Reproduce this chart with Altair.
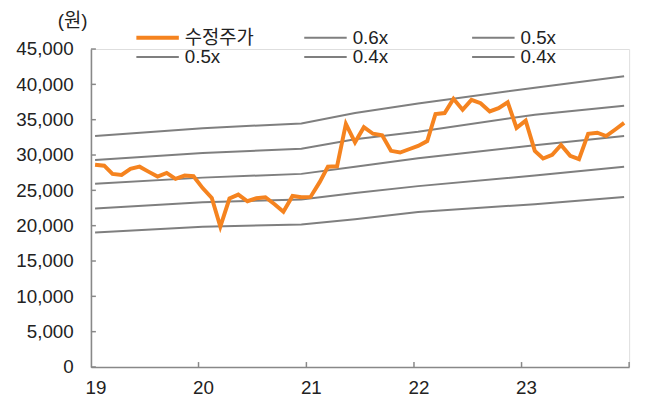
import altair as alt
import pandas as pd

# ---- data ----
months = [f"{2019 + i // 12}-{i % 12 + 1:02d}-15" for i in range(60)]
price = [28630, 28490, 27330, 27190, 28030, 28350, 27650, 26955, 27470, 26630, 27090, 27000,
         25320, 23930, 19880, 23840, 24400, 23460, 23880, 24020, 23040, 21970, 24200, 24020,
         24070, 26160, 28350, 28400, 34400, 31800, 33940, 33010, 32780, 30590, 30350, 30820,
         31280, 31980, 35800, 35940, 37950, 36410, 37810, 37330, 36170, 36630, 37470, 33840,
         34870, 30590, 29510, 30030, 31420, 29890, 29420, 33010, 33150, 32680, 33610, 34540]

band_dates = ["2019-01-15", "2020-01-15", "2020-12-15", "2021-06-15", "2022-01-15", "2023-02-15", "2023-12-15"]
band_names = ["0.6x", "0.5x", "0.5x ", "0.4x", "0.4x "]
band_a = [32680, 33800, 34470, 35940, 37300, 39530, 41160]
band_b = [29290, 30300, 30890, 32220, 33300, 35710, 36970]
band_c = [25930, 26800, 27330, 28350, 29530, 31380, 32680]
band_d = [22440, 23300, 23720, 24630, 25600, 27090, 28350]
band_e = [19040, 19850, 20180, 20910, 21950, 23040, 24070]
band_values = [band_a, band_b, band_c, band_d, band_e]

price_name = "수정주가"
series = [price_name] + band_names
colors = ["#F5831F", "#7F7F7F", "#7F7F7F", "#7F7F7F", "#7F7F7F", "#7F7F7F"]
widths = [4, 2, 2, 2, 2, 2]

y_tick_values = [0, 5000, 10000, 15000, 20000, 25000, 30000, 35000, 40000, 45000]
x_label_years = [2019, 2020, 2021, 2022, 2023]
x_tick_dates = ["2020-01-01", "2021-01-01", "2022-01-01", "2023-01-01", "2024-01-01"]

# ---- tables ----
price_df = pd.DataFrame({"date": months, "value": price, "series": price_name})
band_rows = []
for name, vals in zip(band_names, band_values):
    for d, v in zip(band_dates, vals):
        band_rows.append({"date": d, "value": v, "series": name})
band_df = pd.DataFrame(band_rows)
xt_df = pd.DataFrame({"date": x_tick_dates})
yt_df = pd.DataFrame({"value": y_tick_values})

W, H = 545, 322
FONT = "Liberation Sans, Noto Sans CJK KR"
TXT = "#222222"
AX = "#888888"

x_scale = alt.Scale(type="utc", domain=[alt.DateTime(year=2019, month=1, date=1, utc=True),
                                        alt.DateTime(year=2024, month=1, date=1, utc=True)])
y_scale = alt.Scale(domain=[0, 45000], nice=False, zero=True)
color_scale = alt.Scale(domain=series, range=colors)
width_scale = alt.Scale(type="ordinal", domain=series, range=widths)

legend = alt.Legend(title=None, orient="none", legendX=44, legendY=-20, columns=3,
                    direction="horizontal", symbolType="stroke", symbolSize=1849,
                    labelFontSize=19, labelFont=FONT, labelColor=TXT, labelOffset=4,
                    columnPadding=49, rowPadding=0, clipHeight=16.2, gridAlign="all", padding=0)

x_axis = alt.Axis(values=[alt.DateTime(year=y, month=1, date=1, utc=True) for y in x_label_years],
                  labelExpr="utcFormat(datum.value, '%y')", labelOffset=4.5, ticks=False, tickSize=0,
                  labelPadding=12, grid=False, domainColor=AX, domainWidth=1.6,
                  labelFontSize=19, labelFont=FONT, labelColor=TXT, title=None, labelFlush=False)
y_axis = alt.Axis(values=y_tick_values, format=",d", ticks=False, tickSize=0, labelPadding=18,
                  grid=False, domainColor=AX, domainWidth=1.6, labelFontSize=19, labelFont=FONT,
                  labelColor=TXT, title="(원)", titleAngle=0, titleX=-19, titleY=-29,
                  titleAlign="center", titleBaseline="middle", titleFontSize=19,
                  titleFontWeight="normal", titleFont=FONT, titleColor=TXT)

X = alt.X("date:T", scale=x_scale, axis=x_axis)
Y = alt.Y("value:Q", scale=y_scale, axis=y_axis)

y_ticks = alt.Chart(yt_df).mark_rule(color=AX, strokeWidth=1.5).encode(
    y=Y, x=alt.value(0), x2=alt.value(5))
x_ticks = alt.Chart(xt_df).mark_rule(color=AX, strokeWidth=1.5).encode(
    x=X, y=alt.value(H - 5), y2=alt.value(H))

bands = alt.Chart(band_df).mark_line().encode(
    x=X, y=Y,
    color=alt.Color("series:N", scale=color_scale, legend=legend),
    strokeWidth=alt.StrokeWidth("series:N", scale=width_scale, legend=legend),
    detail="series:N",
)
line = alt.Chart(price_df).mark_line().encode(
    x=X, y=Y,
    color=alt.Color("series:N", scale=color_scale, legend=legend),
    strokeWidth=alt.StrokeWidth("series:N", scale=width_scale, legend=legend),
)

chart = alt.layer(y_ticks, x_ticks, bands, line).properties(
    width=W, height=H,
    autosize=alt.AutoSizeParams(type="none"),
    padding={"left": 84, "top": 39, "right": 10, "bottom": 41},
).configure_view(stroke=None).configure(background="white")

chart.save("out.html", embed_options={"renderer": "svg", "actions": False})
